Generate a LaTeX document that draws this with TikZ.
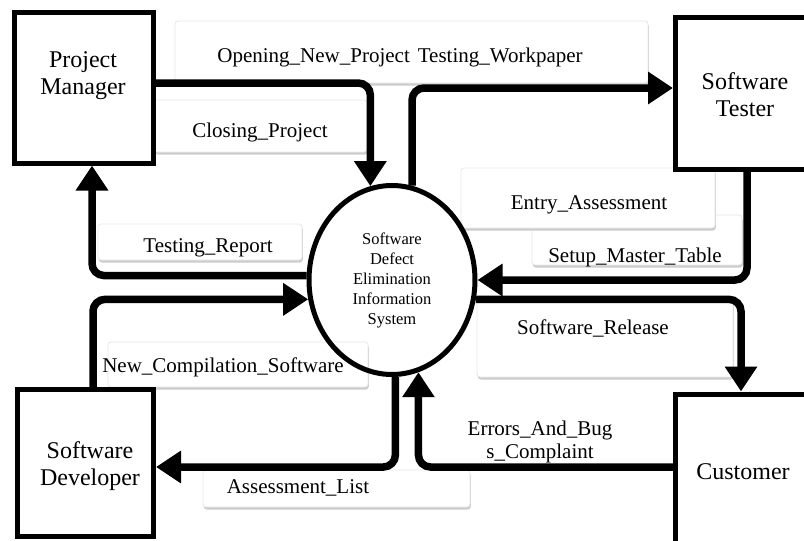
\documentclass[tikz,border=0pt]{standalone}
\usepackage{fontspec}
\setmainfont{Liberation Serif}
\usetikzlibrary{arrows.meta,shapes.geometric,shadows}
\begin{document}
\begin{tikzpicture}[x=1pt,y=-1pt,
  entity/.style={draw, line width=5pt, rectangle, inner sep=0pt},
  lblbox/.style={draw=gray!18, line width=0.8pt, fill=white, rounded corners=3pt, inner sep=0pt,
    drop shadow={shadow xshift=0.8pt, shadow yshift=-2.5pt, fill=gray!40, opacity=1}},
  lbl/.style={font=\fontsize{21}{23}\selectfont, inner sep=0pt, align=center},
  etxt/.style={font=\fontsize{24}{27}\selectfont, inner sep=0pt, align=center},
  flow/.style={line width=7.5pt, rounded corners=12pt, -{Triangle[length=25pt,width=31pt]}},
]
\useasboundingbox (0,0) rectangle (804,541);
\clip (0,0) rectangle (804,541);
\fill[white] (0,0) rectangle (804,541);

% label boxes
\node[lblbox, minimum width=473pt, minimum height=62pt] (b1) at (411.5,52) {};
\node[lblbox, minimum width=213pt, minimum height=52pt] (b2) at (260.5,126) {};
\node[lblbox, minimum width=204pt, minimum height=36pt] (b3) at (200,242) {};
\node[lblbox, minimum width=210pt, minimum height=50pt] (b5) at (637,240) {};
\node[lblbox, minimum width=254pt, minimum height=60pt] (b4) at (588,198) {};
\node[lblbox, minimum width=256pt, minimum height=77pt] (b6) at (605,338.5) {};
\node[lblbox, minimum width=260pt, minimum height=45pt] (b7) at (238,364.5) {};
\node[lblbox, minimum width=267pt, minimum height=37pt] (b8) at (336.5,488.5) {};

% label texts
\node[lbl] (t1) at (400,57) {Opening\_New\_Project\hspace{8pt}Testing\_Workpaper};
\node[lbl] (t2) at (260,132) {Closing\_Project};
\node[lbl] (t3) at (208,248) {Testing\_Report};
\node[lbl] (t4) at (589,205) {Entry\_Assessment};
\node[lbl] (t5) at (635,257) {Setup\_Master\_Table};
\node[lbl] (t6) at (593,328) {Software\_Release};
\node[lbl] (t7) at (223,367) {New\_Compilation\_Software};
\node[lbl] (t8) at (298,488) {Assessment\_List};
\node[lbl] (t9) at (540,441.5) {Errors\_And\_Bug\\s\_Complaint};

% process
\node[draw, ellipse, line width=5pt, minimum width=166pt, minimum height=189pt, inner sep=0pt,
  font=\fontsize{16.5}{20}\selectfont, align=center] (sys) at (392,280)
  {Software\\Defect\\Elimination\\Information\\System};

% entities
\node[entity, minimum width=139pt, minimum height=151pt] (pm) at (83.5,87.5) {};
\node[entity, minimum width=154.5pt, minimum height=151.5pt] (tester) at (752.75,93.25) {};
\node[entity, minimum width=136pt, minimum height=147pt] (dev) at (85.5,463) {};
\node[entity, minimum width=154.5pt, minimum height=206pt] (cust) at (752.75,497) {};
\node[etxt] (pmt) at (83,76) {Project\\Manager};
\node[etxt] (testert) at (745,95) {Software\\Tester};
\node[etxt] (devt) at (90,466) {Software\\Developer};
\node[etxt] (custt) at (743,472) {Customer};

% flows
\draw[flow] (pm.east |- 0,83) -| (sys.103);
\draw[flow] (sys.78) |- (tester.west |- 0,88);
\draw[flow] (sys.177) -| (pm.south -| 92,0);
\draw[flow] (dev.north -| 93,0) |- (sys.193);
\draw[flow] (tester.south -| 747,0) |- (sys.0);
\draw[flow] (sys.-13) -| (cust.north -| 741,0);
\draw[flow] (sys.272) |- (dev.east |- 0,467);
\draw[flow] (cust.west |- 0,467) -| (sys.286);
\end{tikzpicture}
\end{document}
